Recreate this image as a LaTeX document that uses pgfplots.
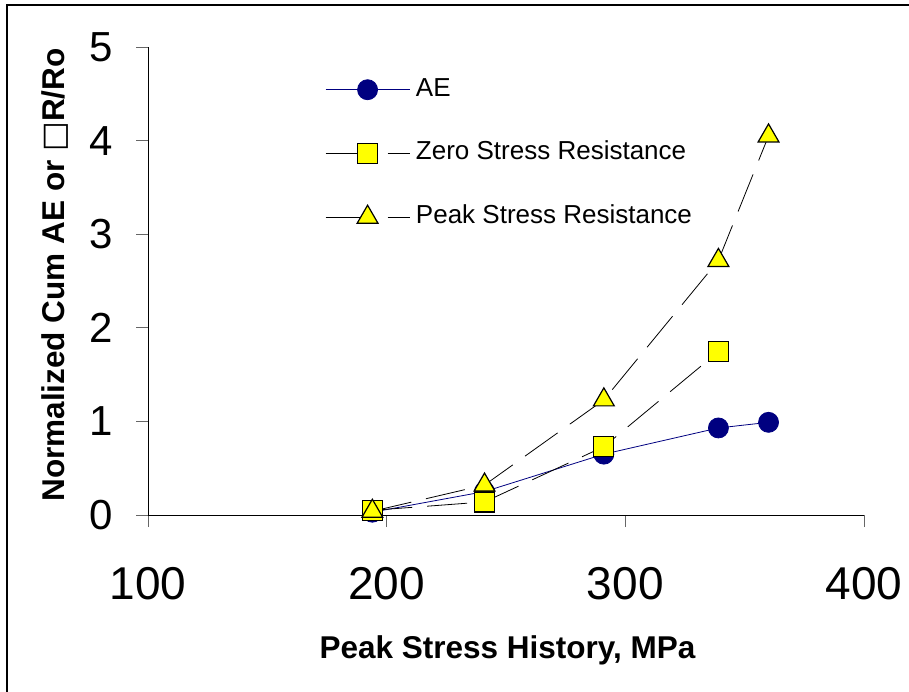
\documentclass[border=0pt]{standalone}
\usepackage{pgfplots}
\pgfplotsset{compat=1.18}
\usepackage{fontspec}
\setmainfont{Liberation Sans}
\newfontfamily\symfont{DejaVu Sans}
\definecolor{navy}{RGB}{0,0,128}
\definecolor{ylw}{RGB}{255,255,0}

\begin{document}
\begin{tikzpicture}[x=1pt,y=1pt]
\useasboundingbox (0,0) rectangle (909,691);
\draw[line width=1.2pt] (7,-5) -- (7,686) -- (915,686);
\coordinate (O) at (148,176);
\begin{axis}[
 at={(O)}, anchor=south west,
 scale only axis, width=716pt, height=468pt,
 xmin=100, xmax=400, ymin=0, ymax=5,
 axis lines*=left,
 axis line style={line width=1pt, black},
 xtick={100,200,300,400}, ytick={0,1,2,3,4,5},
 minor tick num=0,
 tick align=outside,
 major tick length=12pt,
 tick style={line width=1pt, black!60},
 /pgf/number format/assume math mode=true,
 xticklabel style={font=\fontsize{46}{46}\selectfont, inner sep=0pt, anchor=north, yshift=-40pt},
 yticklabel style={font=\fontsize{42}{42}\selectfont, inner sep=0pt, anchor=east, xshift=-23pt},
 every axis x label/.style={at={(axis description cs:0.502,-0.2885)}, anchor=center},
 every axis y label/.style={at={(axis description cs:-0.1299,0.5128)}, anchor=center, rotate=90},
 label style={font=\fontsize{31.5}{31.5}\selectfont\bfseries},
 xlabel={Peak Stress History, MPa},
 ylabel={Normalized Cum AE or {\symfont □}R/Ro},
 clip=false,
 legend image code/.code={\draw[mark repeat=2,mark phase=2,#1] plot coordinates {(0pt,0pt) (42pt,0pt) (84pt,0pt)};},
 legend cell align=left,
 legend style={at={(axis description cs:0.2430,0.938)}, anchor=north west, draw=none, fill=none,
   font=\fontsize{26}{26}\selectfont, row sep=40.5pt,
   nodes={inner sep=0pt, text height=18pt, text depth=5pt},
   /tikz/every odd column/.style={column sep=6pt}},
]
\addplot[navy, line width=0.8pt, mark=*, mark size=10pt, mark options={fill=navy, draw=navy, solid}]
 coordinates {(194,0.03) (241,0.25) (291,0.65) (339,0.93) (360,0.99)};
\addlegendentry{AE}
\addplot[black, line width=0.8pt, dash pattern=on 40pt off 15pt, mark=square*, mark size=10pt,
  mark options={fill=ylw, draw=black, line width=1.2pt, solid},
  legend image post style={dash pattern=on 45pt off 17pt}]
 coordinates {(194,0.05) (241,0.14) (291,0.73) (339,1.745)};
\addlegendentry{Zero Stress Resistance}
\addplot[black, line width=0.8pt, dash pattern=on 40pt off 15pt, mark=triangle*, mark size=12pt,
  mark options={fill=ylw, draw=black, line width=1.2pt, solid},
  legend image post style={dash pattern=on 45pt off 17pt}]
 coordinates {(194,0.04) (241,0.32) (291,1.23) (339,2.72) (360,4.05)};
\addlegendentry{Peak Stress Resistance}
\end{axis}
\end{tikzpicture}
\end{document}
